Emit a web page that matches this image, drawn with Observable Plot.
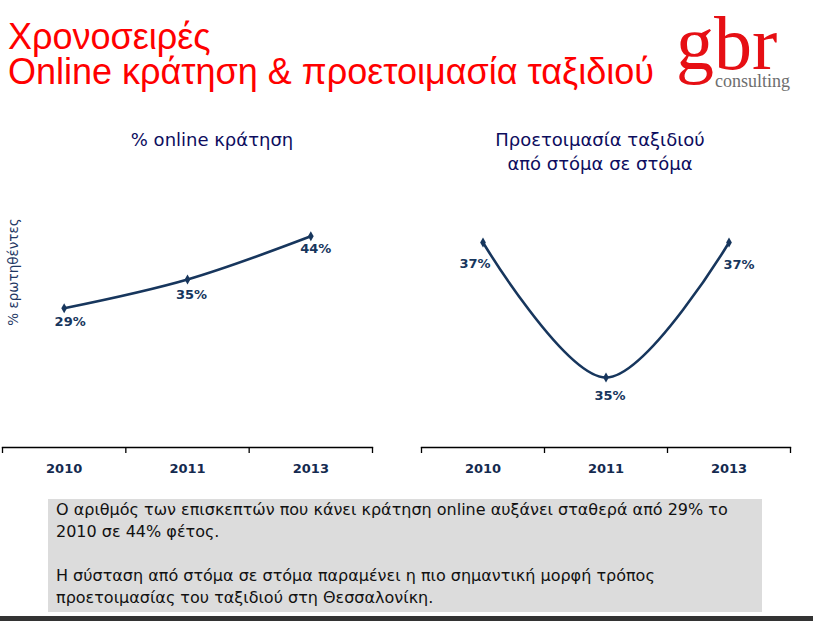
<!DOCTYPE html>
<html>
<head>
<meta charset="utf-8">
<script src="https://cdn.jsdelivr.net/npm/d3@7"></script>
<script src="https://cdn.jsdelivr.net/npm/@observablehq/plot@0.6"></script>
<style>
  html, body { margin: 0; padding: 0; background: #fff; }
  #page { position: relative; width: 813px; height: 621px; overflow: hidden; font-family: "DejaVu Sans", sans-serif; }
  .title { position: absolute; left: 8px; color: #ff0000; font-family: "Liberation Sans", Arial, sans-serif; font-size: 36px; line-height: 34px; white-space: nowrap; }
  .logo { position: absolute; left: 676px; top: 13px; color: #e60f14; font-family: "Liberation Serif", serif; font-size: 76px; line-height: 60px; }
  .logo2 { position: absolute; left: 715px; top: 74px; color: #6e6e6e; font-family: "Liberation Serif", serif; font-size: 18px; line-height: 14px; }
  .ctitle { position: absolute; text-align: center; color: #0d0d5e; font-size: 18px; line-height: 24px; white-space: nowrap; }
  .ylab { position: absolute; left: 13px; top: 272px; transform: translate(-50%, -50%) rotate(-90deg); color: #1f3864; font-size: 13.5px; white-space: nowrap; }
  .chart { position: absolute; top: 100px; }
  .box { position: absolute; left: 48px; top: 499px; width: 714px; height: 113px; background: #dcdcdc; }
  .box p { margin: 0; padding-left: 8px; font-family: "DejaVu Sans", sans-serif; font-size: 16px; line-height: 22px; color: #111; white-space: nowrap; }
  .bar { position: absolute; left: 0; top: 616px; width: 813px; height: 5px; background: #333; }
</style>
</head>
<body>
<div id="page">
  <div class="title" style="top:20px">Χρονοσειρές</div>
  <div class="title" style="top:55px">Online κράτηση &amp; προετοιμασία ταξιδιού</div>
  <div class="logo">gbr</div>
  <div class="logo2">consulting</div>
  <div class="ctitle" style="left:212px; top:128px; transform:translateX(-50%)">% online κράτηση</div>
  <div class="ctitle" style="left:600px; top:128px; transform:translateX(-50%)">Προετοιμασία ταξιδιού<br>από στόμα σε στόμα</div>
  <div class="ylab">% ερωτηθέντες</div>
  <div id="left" class="chart" style="left:0px"></div>
  <div id="right" class="chart" style="left:410px"></div>
  <div class="box">
    <p style="padding-top:0px">Ο αριθμός των επισκεπτών που κάνει κράτηση online αυξάνει σταθερά από 29% το</p>
    <p>2010 σε 44% φέτος.</p>
    <p>&nbsp;</p>
    <p>Η σύσταση από στόμα σε στόμα παραμένει η πιο σημαντική μορφή τρόπος</p>
    <p>προετοιμασίας του ταξιδιού στη Θεσσαλονίκη.</p>
  </div>
  <div class="bar"></div>
</div>
<script>
const years = ["2010", "2011", "2013"];
const onlineBooking = [29, 35, 44];
const wordOfMouth = [37, 35, 37];

const navy = "#17365d";

function makeChart(values, yOpts, dims, labelOffsets) {
  const data = values.map((v, i) => ({ i, year: years[i], v }));
  const labelMarks = data.map((d, k) => Plot.text([d], {
    x: "i", y: "v", text: d => d.v + "%",
    dx: labelOffsets[k][0], dy: labelOffsets[k][1],
    fill: navy, fontWeight: "bold", fontSize: 13
  }));
  return Plot.plot({
    width: dims.width,
    height: 390,
    marginLeft: dims.marginLeft,
    marginRight: dims.marginRight,
    marginTop: 20,
    marginBottom: 43,
    style: { fontFamily: "DejaVu Sans, sans-serif", overflow: "visible" },
    x: { type: "linear", domain: [-0.5, years.length - 0.5] },
    y: yOpts,
    marks: [
      Plot.frame({ anchor: "bottom", stroke: "#000", strokeWidth: 1.3 }),
      Plot.axisX({ ticks: d3.range(years.length + 1).map(k => k - 0.5), tickFormat: () => "", tickSize: 6, stroke: "#000", strokeWidth: 1.3, label: null }),
      Plot.axisX({ ticks: d3.range(years.length), tickFormat: k => years[k], tickSize: 0, tickPadding: 16, fontWeight: "bold", fontSize: 13, fill: "#142a4f", label: null }),
      Plot.axisY({ ticks: [], label: null }),
      Plot.line(data, { x: "i", y: "v", stroke: navy, strokeWidth: 2.6, curve: "catmull-rom" }),
      Plot.dot(data, { x: "i", y: "v", symbol: "diamond", r: 3, fill: navy }),
      ...labelMarks
    ]
  });
}

document.getElementById("left").append(
  makeChart(onlineBooking, { domain: [0, 60], range: [347, 59] },
    { width: 400, marginLeft: 2, marginRight: 28 },
    [[6, 14], [4, 15], [5, 13]])
);
document.getElementById("right").append(
  makeChart(wordOfMouth, { domain: [35, 37], range: [277, 142] },
    { width: 403, marginLeft: 11, marginRight: 23 },
    [[-8, 21], [4, 18], [10, 22]])
);
</script>
</body>
</html>
